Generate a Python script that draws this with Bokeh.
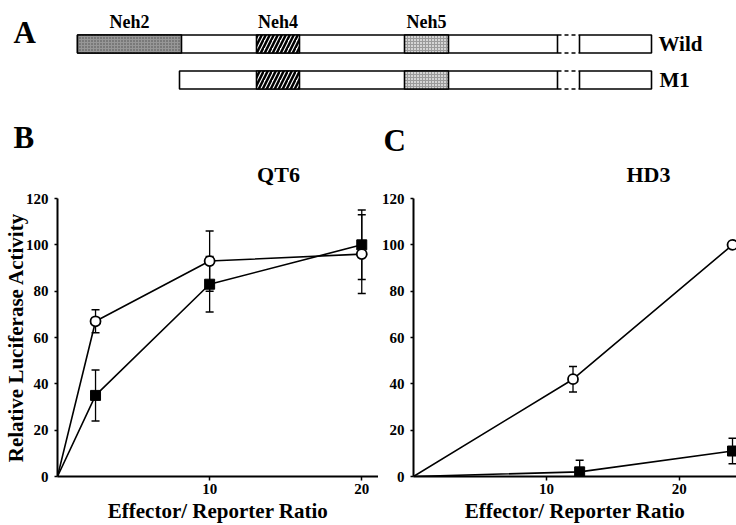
from bokeh.plotting import figure
from bokeh.layouts import column, row
from bokeh.models import Range1d, FixedTicker, ColumnDataSource, Whisker, TeeHead
from bokeh.core.properties import value
from bokeh.embed import file_html
from bokeh.resources import INLINE

FONT = "Liberation Serif"

# ---------------- Panel A data (diagram units) ----------------
row_names = ["Wild", "M1"]
row_y = [1, 0]
row_start = [0, 102]
break_start = 480
break_end = 502
bar_end = 574
neh_names = ["Neh2", "Neh4", "Neh5"]
neh_start = [0, 179, 327]
neh_end = [104, 222, 371]

# panel letters and cell-line titles
panel_letters = ["A", "B", "C"]
cell_lines = ["QT6", "HD3"]

# ---------------- Panel B (QT6) ----------------
b_x = [0, 2.5, 10, 20]
b_circle = [0, 67, 93, 96]
b_circle_err = [0, 5, 13, 17]
b_square_x = [0, 2.5, 10, 20]
b_square = [0, 35, 83, 100]
b_square_err = [0, 11, 12, 15]

# ---------------- Panel C (HD3) ----------------
c_x = [0, 12, 24]
c_circle = [0, 42, 100]
c_circle_err = [0, 5.5, 0]
c_square_x = [0, 12.5, 24]
c_square = [0, 2, 11]
c_square_err = [0, 5, 5.5]

y_ticks = [0, 20, 40, 60, 80, 100, 120]
x_ticks = [10, 20]
y_title = "Relative Luciferase Activity"
x_title = "Effector/ Reporter Ratio"

# ================= Panel A (top strip, also carries B/C headings) =================
pa = figure(width=736, height=187, x_range=Range1d(-77, 659), y_range=Range1d(-2.986, 2.208),
            output_backend="svg", toolbar_location=None,
            min_border_left=0, min_border_right=0, min_border_top=0, min_border_bottom=0)
pa.axis.visible = False
pa.grid.visible = False
pa.outline_line_color = None

h = 0.25
for name, y, s in zip(row_names, row_y, row_start):
    pa.quad(left=[s, break_end], right=[break_start, bar_end], bottom=[y - h] * 2, top=[y + h] * 2,
            fill_color="white", line_color="black", line_width=1.6)
    pa.segment(x0=[break_start, break_start], x1=[break_end, break_end], y0=[y - h, y + h], y1=[y - h, y + h],
               line_color="black", line_width=1.6, line_dash="4 3")
    for nm, a, b in zip(neh_names, neh_start, neh_end):
        if a < s:
            continue
        if nm == "Neh2":
            pa.quad(left=[a], right=[b], bottom=[y - h], top=[y + h], fill_color="#979797",
                    hatch_pattern="dot", hatch_color="#4a4a4a", hatch_scale=3, hatch_weight=1,
                    line_color="black", line_width=1.6)
        elif nm == "Neh4":
            pa.quad(left=[a], right=[b], bottom=[y - h], top=[y + h], fill_color="white",
                    hatch_pattern="right_diagonal_line", hatch_color="black", hatch_scale=8, hatch_weight=2.5,
                    line_color="black", line_width=1.6)
        else:
            pa.quad(left=[a], right=[b], bottom=[y - h], top=[y + h], fill_color="#d4d4d4",
                    hatch_pattern="cross", hatch_color="#9a9a9a", hatch_scale=3, hatch_weight=1,
                    line_color="black", line_width=1.6)

neh_src = ColumnDataSource(dict(x=[(a + b) / 2 for a, b in zip(neh_start, neh_end)],
                                y=[1.60] * 3, t=neh_names))
pa.text(x="x", y="y", text="t", source=neh_src, text_align="center", text_baseline="middle",
        text_font=value(FONT), text_font_style="bold", text_font_size="18px", text_color="black")
row_src = ColumnDataSource(dict(x=[581, 582], y=row_y, t=row_names))
pa.text(x="x", y="y", text="t", source=row_src, text_align="left", text_baseline="middle",
        text_font=value(FONT), text_font_style="bold", text_font_size="21px", text_color="black")
letter_src = ColumnDataSource(dict(x=[-64, -64, 306], y=[1.333, -1.611, -1.667], t=panel_letters))
pa.text(x="x", y="y", text="t", source=letter_src, text_align="left", text_baseline="middle",
        text_font=value(FONT), text_font_style="bold", text_font_size="31px", text_color="black")
cell_src = ColumnDataSource(dict(x=[201, 571], y=[-2.625, -2.625], t=cell_lines))
pa.text(x="x", y="y", text="t", source=cell_src, text_align="center", text_baseline="middle",
        text_font=value(FONT), text_font_style="bold", text_font_size="22px", text_color="black")


def style_axes(p, ylabel=None):
    p.grid.visible = False
    p.outline_line_color = None
    p.xaxis.ticker = FixedTicker(ticks=x_ticks)
    p.yaxis.ticker = FixedTicker(ticks=y_ticks)
    for ax in (p.xaxis[0], p.yaxis[0]):
        ax.axis_line_width = 2
        ax.axis_line_color = "black"
        ax.major_tick_in = 0
        ax.minor_tick_in = 0
        ax.minor_tick_out = 0
        ax.major_tick_line_color = "black"
        ax.major_tick_line_width = 1.5
        ax.major_label_text_font = FONT
        ax.major_label_text_font_style = "bold"
        ax.major_label_text_font_size = "15px"
        ax.major_label_text_color = "black"
        ax.axis_label_text_font = FONT
        ax.axis_label_text_font_style = "bold"
        ax.axis_label_text_font_size = "21px"
        ax.axis_label_text_color = "black"
    p.xaxis.major_tick_out = 4
    p.xaxis.major_label_standoff = 3
    p.xaxis.axis_label = x_title
    p.xaxis.axis_label_standoff = 2
    p.yaxis.major_tick_out = 3
    p.yaxis.major_label_standoff = 6
    if ylabel:
        p.yaxis.axis_label = ylabel
        p.yaxis.axis_label_standoff = -5


def draw_series(p, xc, yc, ec, xs, ys, es):
    p.line(xc, yc, line_color="black", line_width=1.6)
    p.line(xs, ys, line_color="black", line_width=1.6)
    for xx, yy, ee in ((xc, yc, ec), (xs, ys, es)):
        src = ColumnDataSource(dict(x=xx[1:], lo=[a - b for a, b in zip(yy[1:], ee[1:])],
                                    hi=[a + b for a, b in zip(yy[1:], ee[1:])]))
        p.add_layout(Whisker(base="x", lower="lo", upper="hi", source=src, line_color="black",
                             line_width=1.3,
                             upper_head=TeeHead(size=8, line_color="black", line_width=1.5),
                             lower_head=TeeHead(size=8, line_color="black", line_width=1.5)))
    p.scatter(xs[1:], ys[1:], marker="square", size=10, fill_color="black", line_color="black")
    p.scatter(xc[1:], yc[1:], marker="circle", size=10, fill_color="white", line_color="black",
              line_width=1.8)


# ================= Panel B =================
pb = figure(width=378, height=338, x_range=Range1d(0, 21.1), y_range=Range1d(0, 120),
            output_backend="svg", toolbar_location=None,
            min_border_left=57, min_border_right=0, min_border_top=9, min_border_bottom=49)
style_axes(pb, y_title)
draw_series(pb, b_x, b_circle, b_circle_err, b_square_x, b_square, b_square_err)

# ================= Panel C =================
pc = figure(width=358, height=338, x_range=Range1d(0, 24.3), y_range=Range1d(0, 120),
            output_backend="svg", toolbar_location=None,
            min_border_left=34, min_border_right=0, min_border_top=11, min_border_bottom=49)
style_axes(pc)
draw_series(pc, c_x, c_circle, c_circle_err, c_square_x, c_square, c_square_err)

layout = column(pa, row(pb, pc))
open("out.html", "w").write(file_html(layout, INLINE))
